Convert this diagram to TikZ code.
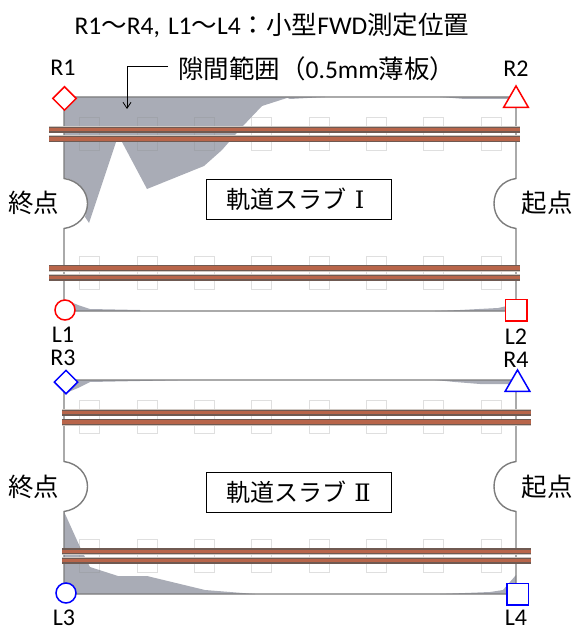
\documentclass[tikz,border=0pt]{standalone}
\usepackage{fontspec}
\setmainfont{Noto Sans CJK JP}
\newfontfamily\latf{Carlito}
\newfontfamily\romf{DejaVu Serif}
\usetikzlibrary{shapes.geometric,arrows.meta}
\definecolor{gapgray}{HTML}{A9ACB6}
\definecolor{edgegray}{HTML}{7C7C7C}
\definecolor{sleepergray}{HTML}{8C8C8C}
\definecolor{railbrown}{HTML}{B8654A}
\definecolor{raildark}{HTML}{6F5A52}
\definecolor{railhalo}{HTML}{CFC8C2}
\definecolor{mred}{HTML}{FF0000}
\definecolor{mblue}{HTML}{0000FF}
\newcommand{\lpar}{\char"FF08\relax}
\newcommand{\rpar}{\char"FF09\relax}
\newcommand{\fcolon}{\char"FF1A\relax}
\newcommand{\railpair}[3]{%
  \foreach \yy in {#1} {%
    \draw[railhalo,line width=7pt] (#2,\yy) -- (#3,\yy);
    \draw[raildark,line width=5.8pt] (#2,\yy) -- (#3,\yy);
    \draw[railbrown,line width=3.2pt] (#2,\yy) -- (#3,\yy);
  }}
\newcommand{\sleepers}[2]{%
  \foreach \xx in {79,137,194,251,309,366,423,481} {%
    \draw[sleepergray,draw opacity=.28,line width=1pt] (\xx,#1) rectangle (\xx+20.5,#2);
  }}
\newcommand{\slab}[1]{%
  (64,#1) -- (516,#1) -- (516,#1+81.5)
  .. controls (502,#1+83.5) and (494,#1+94) .. (494,#1+106.5)
  .. controls (494,#1+119) and (502,#1+129.5) .. (516,#1+131.5)
  -- (516,#1+214) -- (64,#1+214) -- (64,#1+131.5)
  .. controls (78,#1+129.5) and (87.5,#1+119) .. (87.5,#1+106.5)
  .. controls (87.5,#1+94) and (78,#1+83.5) .. (64,#1+81.5) -- cycle}
\tikzset{
  gaparea/.style={fill=gapgray,draw=none},
  outline/.style={draw=edgegray,line width=1.4pt},
  lbl/.style={inner sep=0pt,font=\fontsize{25.5}{27}\selectfont},
  slabbox/.style={draw=black,line width=.8pt,fill=white,minimum width=185pt,minimum height=40pt,inner sep=0pt,font=\fontsize{24}{26}\selectfont},
  pointlbl/.style={inner sep=0pt,font=\latf\fontsize{24}{26}\selectfont},
  mk/.style={fill=white,line width=1.5pt,inner sep=0pt},
  tri/.style={mk,regular polygon,regular polygon sides=3,minimum size=28.7pt},
}
\begin{document}
\begin{tikzpicture}[x=1pt,y=-1pt]
\useasboundingbox (0,0) rectangle (576,631);
% gap areas, slab I
\fill[gaparea] (64,97) -- (290,97) -- (262,106) -- (242,127) -- (222,150) -- (204,166) -- (147,189)
  -- (122,142) -- (116,142) -- (89,223) -- (85,217)
  .. controls (88,208) and (88,197) .. (83,189) .. controls (79,183) and (72,179) .. (64,178) -- cycle;
\fill[gaparea] (285,97) -- (325,97) -- (290,99) -- cycle;
\fill[gaparea] (440,97) -- (516,97) -- (516,99) -- (465,99) -- cycle;
\fill[gaparea] (66,300) -- (78,305) -- (90,309) -- (140,310) -- (140,311) -- (66,311) -- cycle;
\fill[gaparea] (435,311) -- (516,311) -- (516,304) -- (498,308) -- (460,310) -- cycle;
% gap areas, slab II
\fill[gaparea] (66,393) -- (78,388) -- (90,382) -- (190,380) -- (66,380) -- cycle;
\fill[gaparea] (435,380) -- (516,380) -- (516,384) -- (480,384) -- (455,382) -- cycle;
\fill[gaparea] (64,511.5) -- (80,547) -- (90,567) -- (118,576) -- (147,576) -- (205,590) -- (255,594) -- (64,594) -- cycle;
\fill[gaparea] (440,594) -- (490,592) -- (503,590) -- (516,575) -- (516,594) -- cycle;
% sleepers
\sleepers{117.5}{150.5}
\sleepers{256.5}{289.5}
\sleepers{400.5}{433.5}
\sleepers{539.5}{572.5}
% slab outlines
\draw[outline] \slab{97};
\draw[outline] \slab{380};
% rails
\railpair{129.7,139,268,277.7}{49}{520}
\railpair{412.7,422,551.3,560.7}{62}{531}
% slab labels
\node[slabbox] (s1) at (298.5,199) {軌道スラブ\hspace{8pt}{\romf Ⅰ}\kern6pt};
\node[slabbox] (s2) at (298.5,492) {軌道スラブ\hspace{8pt}{\romf Ⅱ}};
% title
\node[lbl] (title) at (272,25) {{\latf R1}〜{\latf R4,\hspace{8pt}L1}〜{\latf L4}\fcolon 小型{\latf FWD}測定位置};
% gap label and leader
\node[lbl,anchor=west,inner xsep=10pt] (gap) at (168,69) {隙間範囲\lpar{\latf 0.5mm}薄板\rpar};
\coordinate (gapend) at (127,109);
\draw[black,line width=.8pt,-{Straight Barb[length=6pt,width=8pt]}] (gap.west) ++(0,-3) -| (gapend);
% end labels
\node[lbl] (e1) at (34,203) {終点};
\node[lbl] (b1) at (547,203) {起点};
\node[lbl] (e2) at (34,487) {終点};
\node[lbl] (b2) at (547,487) {起点};
% markers
\node[mk,draw=mred,diamond,aspect=1,minimum size=24pt] (mR1) at (64.5,98.5) {};
\node[tri,draw=mred] (mR2) at (516,100.3) {};
\node[mk,draw=mred,circle,minimum size=20pt] (mL1) at (65,310) {};
\node[mk,draw=mred,rectangle,minimum size=21.5pt] (mL2) at (516,310) {};
\node[mk,draw=mblue,diamond,aspect=1,minimum size=24pt] (mR3) at (66,382) {};
\node[tri,draw=mblue] (mR4) at (517.5,384.3) {};
\node[mk,draw=mblue,circle,minimum size=20pt] (mL3) at (66,593) {};
\node[mk,draw=mblue,rectangle,minimum size=21.5pt] (mL4) at (517.5,594) {};
% marker labels
\node[pointlbl] (tR1) at (63,68) {R1};
\node[pointlbl] (tR2) at (516,69) {R2};
\node[pointlbl] (tL1) at (63,335) {L1};
\node[pointlbl] (tL2) at (516,337) {L2};
\node[pointlbl] (tR3) at (63,358) {R3};
\node[pointlbl] (tR4) at (516,360) {R4};
\node[pointlbl] (tL3) at (64,618) {L3};
\node[pointlbl] (tL4) at (516,618) {L4};
\end{tikzpicture}
\end{document}
